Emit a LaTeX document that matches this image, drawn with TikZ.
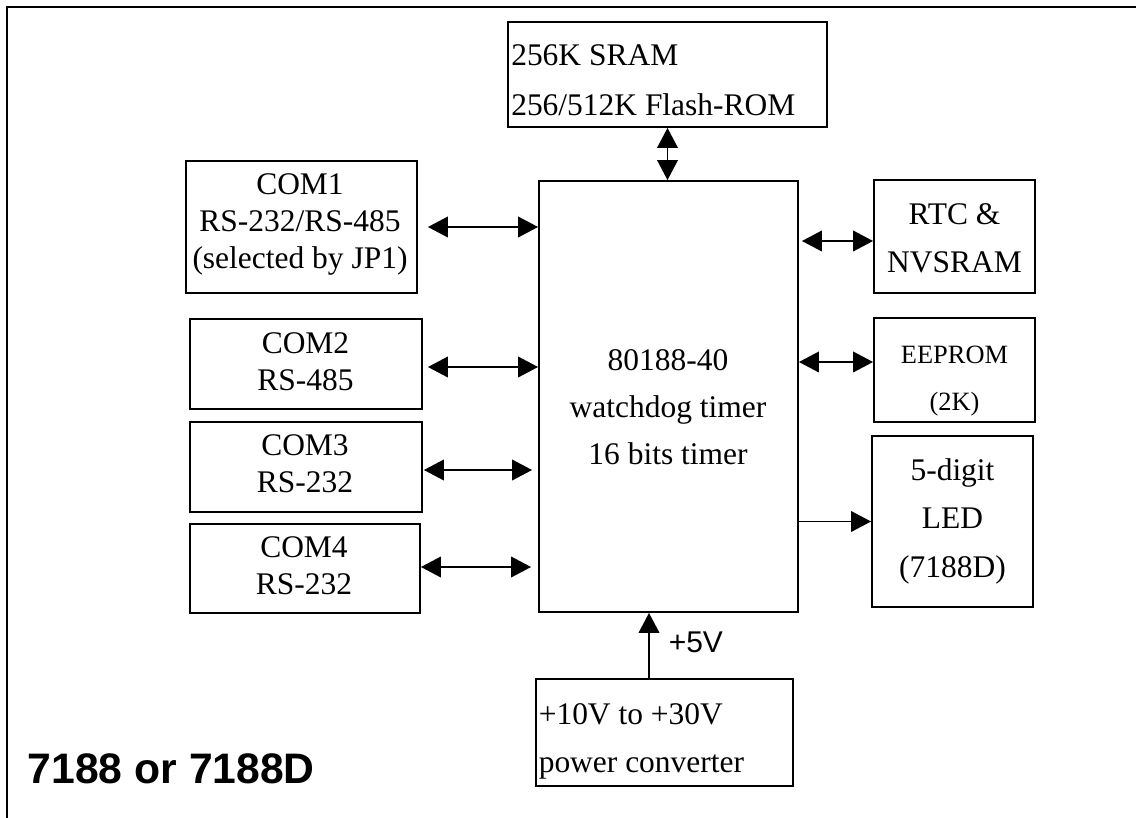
\documentclass[tikz,border=0pt]{standalone}
\usepackage{fontspec}
\setmainfont{Liberation Serif}
\newfontfamily\arialfont{Liberation Sans}
\usetikzlibrary{arrows.meta,fit}

\tikzset{
  blk/.style={draw, line width=1.4pt, inner sep=0pt},
  lbl/.style={inner sep=0pt, align=center, font=\fontsize{23.6}{28}\selectfont},
  dbl/.style={{Triangle[length=15pt,width=15.5pt]}-{Triangle[length=15pt,width=15.5pt]}, line width=1.2pt},
  sgl/.style={-{Triangle[length=15pt,width=15.5pt]}, line width=1.2pt},
}

\begin{document}
\begin{tikzpicture}[x=0.75pt,y=0.75pt,yscale=-1,xscale=1]
    \useasboundingbox (0,0) rectangle (1136,818);

    %Shape: outer frame
    \draw [line width=1.8pt] (7,818) -- (7,7) -- (1136,7) ;

    %Shape: Rectangle [memory]
    \node [blk, fit={(508,22) (827,127)}] (sram) {};
    %Shape: Rectangle [cpu]
    \node [blk, fit={(539,181) (798,612)}] (cpu) {};
    %Shape: Rectangle [com ports]
    \node [blk, fit={(186,161) (417,293)}] (com1) {};
    \node [blk, fit={(190,319) (422,409)}] (com2) {};
    \node [blk, fit={(190,422) (422,512)}] (com3) {};
    \node [blk, fit={(190,524) (420,613)}] (com4) {};
    %Shape: Rectangle [right side]
    \node [blk, fit={(874,180) (1035,293)}] (rtc) {};
    \node [blk, fit={(874,318) (1035,422)}] (eeprom) {};
    \node [blk, fit={(872,436) (1033,607)}] (led) {};
    %Shape: Rectangle [power]
    \node [blk, fit={(536,679) (793,786)}] (pwr) {};

    % Text Node
    \node [lbl, anchor=west, align=left, font=\fontsize{23.6}{37.5}\selectfont] (sramtxt) at (511,80) {256K SRAM\\256/512K Flash-ROM};
    % Text Node
    \node [lbl, font=\fontsize{23.6}{35.25}\selectfont] (cputxt) at (668,407) {80188-40\\watchdog timer\\16 bits timer};
    % Text Node
    \node [lbl] (com1txt) at (300,224.5) {COM1\\RS-232/RS-485\\(selected by JP1)};
    % Text Node
    \node [lbl] (com2txt) at (305.5,362) {COM2\\RS-485};
    % Text Node
    \node [lbl] (com3txt) at (305,464) {COM3\\RS-232};
    % Text Node
    \node [lbl] (com4txt) at (304,565.5) {COM4\\RS-232};
    % Text Node
    \node [lbl, font=\fontsize{23.6}{36}\selectfont] (rtctxt) at (954.5,238.5) {RTC \&\\NVSRAM};
    % Text Node
    \node [lbl, font=\fontsize{19.8}{35.25}\selectfont] (eepromtxt) at (954.5,381.5) {EEPROM\\(2K)};
    % Text Node
    \node [lbl, font=\fontsize{23.6}{36.4}\selectfont] (ledtxt) at (952.5,521) {5-digit\\LED\\(7188D)};
    % Text Node
    \node [lbl, anchor=west, align=left, font=\fontsize{23.6}{36}\selectfont] (pwrtxt) at (538.5,741.5) {+10V to +30V\\power converter};
    % Text Node
    \node [inner sep=0pt, anchor=base west, font=\arialfont\fontsize{22.5}{26}\selectfont] (volt) at (668.5,652) {+5V};
    % Text Node
    \node [inner sep=0pt, anchor=base west, font=\arialfont\bfseries\fontsize{32}{36}\selectfont] (title) at (27.5,783) {7188 or 7188D};

    %Arrows
    \draw [dbl] (sram.south) -- (sram.south |- cpu.north) ;
    \draw [dbl, shorten <=7.5pt] (com1.east) -- (com1.east -| cpu.west) ;
    \draw [dbl, shorten <=3.75pt] (com2.east |- 0,367) -- (cpu.west |- 0,367) ;
    \draw [dbl, shorten <=0.75pt, shorten >=4.5pt] (com3.east |- 0,470) -- (cpu.west |- 0,470) ;
    \draw [dbl, shorten >=5.25pt] (com4.east |- 0,567) -- (cpu.west |- 0,567) ;
    \draw [dbl, shorten <=2.25pt] (cpu.east |- 0,241) -- (rtc.west |- 0,241) ;
    \draw [dbl] (cpu.east |- 0,362) -- (eeprom.west |- 0,362) ;
    \draw [sgl] (cpu.east |- led.west) -- (led.west) ;
    \draw [sgl] (649,0 |- pwr.north) -- (649,0 |- cpu.south) ;

\end{tikzpicture}
\end{document}
